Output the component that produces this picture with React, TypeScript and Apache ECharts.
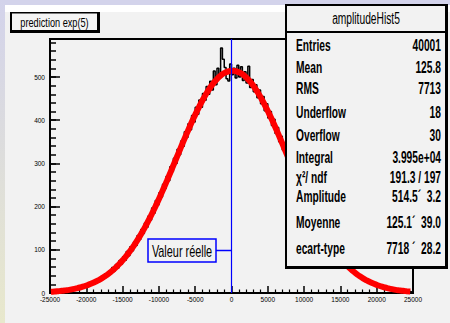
import React, { useEffect, useRef } from "react";
import * as echarts from "echarts";

// Histogram: 200 bins of 250 from -25000 to 25000
const binStart = -25000;
const binWidth = 250;
const binValues = [
  3, 2, 4, 3, 5, 3, 6, 4, 7, 5,
  9, 7, 11, 8, 12, 10, 15, 12, 17, 14,
  21, 17, 25, 20, 28, 24, 33, 28, 38, 33,
  44, 38, 50, 44, 59, 51, 66, 58, 75, 67,
  84, 76, 96, 86, 107, 98, 118, 110, 133, 124,
  147, 138, 162, 152, 178, 169, 197, 185, 214, 204,
  232, 222, 252, 242, 270, 260, 292, 281, 312, 300,
  333, 320, 352, 340, 373, 360, 392, 378, 411, 396,
  430, 414, 447, 430, 462, 446, 478, 460, 490, 470,
  514, 482, 520, 498, 567, 541, 522, 496, 491, 530,
  505, 520, 498, 527, 500, 524, 492, 512, 486, 525,
  476, 494, 466, 482, 452, 470, 438, 455, 422, 438,
  405, 420, 388, 402, 369, 383, 350, 363, 331, 342,
  311, 322, 291, 301, 271, 281, 252, 260, 233, 240,
  215, 221, 197, 202, 180, 185, 163, 168, 148, 152,
  133, 137, 119, 123, 106, 110, 95, 98, 84, 87,
  74, 77, 65, 68, 56, 59, 49, 52, 42, 45,
  37, 39, 31, 34, 27, 29, 23, 25, 19, 22,
  16, 18, 14, 15, 11, 13, 9, 11, 8, 9,
  6, 8, 5, 6, 4, 5, 3, 4, 3, 2,
];

// Fitted curve, sampled every 500 starting at -24875
const fitStart = -24875;
const fitStep = 500;
const fitValues = [
  2.7, 3.3, 4.1, 5.0, 6.1, 7.3, 8.9, 10.7, 12.7, 15.2,
  18.0, 21.2, 24.9, 29.1, 33.9, 39.4, 45.5, 52.4, 60.0, 68.5,
  77.9, 88.1, 99.4, 111.5, 124.6, 138.7, 153.7, 169.6, 186.4, 204.0,
  222.3, 241.3, 260.7, 280.6, 300.7, 320.9, 341.0, 360.9, 380.3, 399.1,
  417.1, 434.0, 449.8, 464.2, 477.1, 488.2, 497.5, 504.9, 510.2, 513.4,
  514.5, 513.4, 510.2, 504.9, 497.5, 488.2, 477.1, 464.2, 449.8, 434.0,
  417.1, 399.1, 380.3, 360.9, 341.0, 320.9, 300.7, 280.6, 260.7, 241.3,
  222.3, 204.0, 186.4, 169.6, 153.7, 138.7, 124.6, 111.5, 99.4, 88.1,
  77.9, 68.5, 60.0, 52.4, 45.5, 39.4, 33.9, 29.1, 24.9, 21.2,
  18.0, 15.2, 12.7, 10.7, 8.9, 7.3, 6.1, 5.0, 4.1, 3.3,
];

const xMin = -25000;
const xMax = 25000;
const xInterval = 5000;
const yMin = 0;
const yMax = 588;
const yLabelValues = [0, 100, 200, 300, 400, 500];
const yMinorStep = 20;
const trueValue = 0;

const titleText = "prediction exp(5)";
const markerText = "Valeur réelle";
const statsTitle = "amplitudeHist5";
const statsLabels = [
  "Entries", "Mean", "RMS", "Underflow", "Overflow", "Integral",
  "χ²/ ndf", "Amplitude", "Moyenne", "ecart-type",
];
const statsValues = [
  "40001", "125.8", "7713", "18", "30", "3.995e+04",
  "191.3 / 197", "514.5´  3.2", "125.1´  39.0", "7718 ´  28.2",
];
const statsRowY = [46, 68, 89, 113, 136, 158, 178, 197, 223, 249];

const SANS = "'Liberation Sans', Arial, sans-serif";

export default function App() {
  const ref = useRef<HTMLDivElement>(null);
  useEffect(() => {
    if (!ref.current) return;
    const chart = echarts.init(ref.current, null, { renderer: "svg" });

    const histData: number[][] = binValues.map((v, i) => [binStart + i * binWidth, v]);
    histData.push([binStart + binValues.length * binWidth, binValues[binValues.length - 1]]);
    const fitData = fitValues.map((v, i) => [fitStart + i * fitStep, v]);
    const yMinor: number[] = [];
    for (let v = yMin; v <= yMax; v += yMinorStep) yMinor.push(v);

    const txt = (text: string, x: number, y: number, font: string, align: string, z: number, sx: number) => ({
      type: "text", x, y, z, scaleX: sx,
      style: { text, fill: "#000", font, textAlign: align, textVerticalAlign: "middle", verticalAlign: "middle" },
    });

    const statsGraphics: any[] = [];
    statsLabels.forEach((l, i) => {
      statsGraphics.push(txt(l, 296, statsRowY[i], `bold 16.5px ${SANS}`, "left", 110, 0.62));
      statsGraphics.push(txt(statsValues[i], 441, statsRowY[i], `bold 16.5px ${SANS}`, "right", 110, 0.62));
    });

    const axisFont = { fontSize: 6.5, color: "#000", fontFamily: SANS };

    chart.setOption({
      animation: false,
      backgroundColor: "#f2f2f2",
      grid: {
        left: 50, right: 37, top: 39, bottom: 30,
        show: true, borderColor: "#000", borderWidth: 2, backgroundColor: "#f2f2f2",
      },
      xAxis: {
        type: "value", min: xMin, max: xMax, interval: xInterval,
        axisLine: { onZero: false, lineStyle: { color: "#000", width: 2 } },
        axisTick: { inside: true, length: 7, lineStyle: { color: "#000", width: 1.5 } },
        minorTick: { show: true, splitNumber: 5, length: 3.5, lineStyle: { color: "#000", width: 1.2 } },
        axisLabel: { ...axisFont, margin: 3, formatter: (v: number) => String(v) },
        splitLine: { show: false },
      },
      yAxis: [
        {
          type: "value", min: yMin, max: yMax, position: "left",
          axisLine: { show: true, onZero: false, lineStyle: { color: "#000", width: 2 } },
          axisTick: { show: true, inside: true, length: 10, customValues: yLabelValues, lineStyle: { color: "#000", width: 1.5 } },
          axisLabel: { ...axisFont, margin: 5, customValues: yLabelValues, formatter: (v: number) => String(v) },
          splitLine: { show: false },
        },
        {
          type: "value", min: yMin, max: yMax, position: "left",
          axisLine: { show: false, onZero: false },
          axisTick: { show: true, inside: true, length: 6, customValues: yMinor, lineStyle: { color: "#000", width: 1.5 } },
          axisLabel: { show: false },
          splitLine: { show: false },
        },
      ],
      series: [
        {
          type: "line", step: "end", data: histData, symbol: "none", yAxisIndex: 0,
          lineStyle: { color: "#000", width: 1.5 }, z: 2,
        },
        {
          type: "line", smooth: true, data: fitData, symbol: "none", yAxisIndex: 0, clip: false,
          lineStyle: { color: "#ff0000", width: 6 }, z: 3,
        },
        {
          type: "line", data: [], yAxisIndex: 0, z: 4,
          markLine: {
            silent: true, symbol: ["none", "none"], label: { show: false },
            lineStyle: { color: "#0000ff", width: 1.2, type: "solid" },
            data: [{ xAxis: trueValue }],
          },
        },
      ],
      graphic: [
        { type: "rect", z: 100, shape: { x: 0, y: 0, width: 450, height: 5 }, style: { fill: "#d3d3eb" } },
        {
          type: "rect", z: 100, shape: { x: 0, y: 0, width: 5, height: 323 },
          style: {
            fill: new echarts.graphic.LinearGradient(0, 0, 0, 1, [
              { offset: 0, color: "#d3d3eb" },
              { offset: 1, color: "#e8e8cc" },
            ]),
          },
        },
        { type: "rect", z: 100, shape: { x: 5, y: 5, width: 445, height: 7 }, style: { fill: "#ffffff" } },
        // title box
        { type: "rect", z: 100, shape: { x: 10, y: 12, width: 90, height: 21 }, style: { fill: "#000" } },
        { type: "rect", z: 101, shape: { x: 12, y: 13.5, width: 85, height: 16.5 }, style: { fill: "#f4f4f4" } },
        txt(titleText, 54.5, 22, `13.5px ${SANS}`, "center", 102, 0.68),
        // stats box
        { type: "rect", z: 105, shape: { x: 285, y: 4, width: 163, height: 265 }, style: { fill: "#000" } },
        { type: "rect", z: 106, shape: { x: 287, y: 6, width: 158, height: 260 }, style: { fill: "#f2f2f2" } },
        { type: "rect", z: 107, shape: { x: 287, y: 31, width: 158, height: 2 }, style: { fill: "#000" } },
        txt(statsTitle, 366, 18.5, `16px ${SANS}`, "center", 110, 0.64),
        ...statsGraphics,
        // true value label
        {
          type: "rect", z: 100, shape: { x: 148, y: 239, width: 68, height: 23 },
          style: { fill: "#f2f2f2", stroke: "#0000ff", lineWidth: 1.5 },
        },
        txt(markerText, 182, 251, `17px ${SANS}`, "center", 101, 0.64),
        {
          type: "line", z: 100, shape: { x1: 216, y1: 250.5, x2: 231.5, y2: 250.5 },
          style: { stroke: "#0000ff", lineWidth: 1.5 },
        },
      ],
    });
    return () => chart.dispose();
  }, []);
  return (
    <div
      ref={ref}
      style={{ position: "fixed", left: 0, top: 0, width: 450, height: 323, background: "#f2f2f2" }}
    />
  );
}
